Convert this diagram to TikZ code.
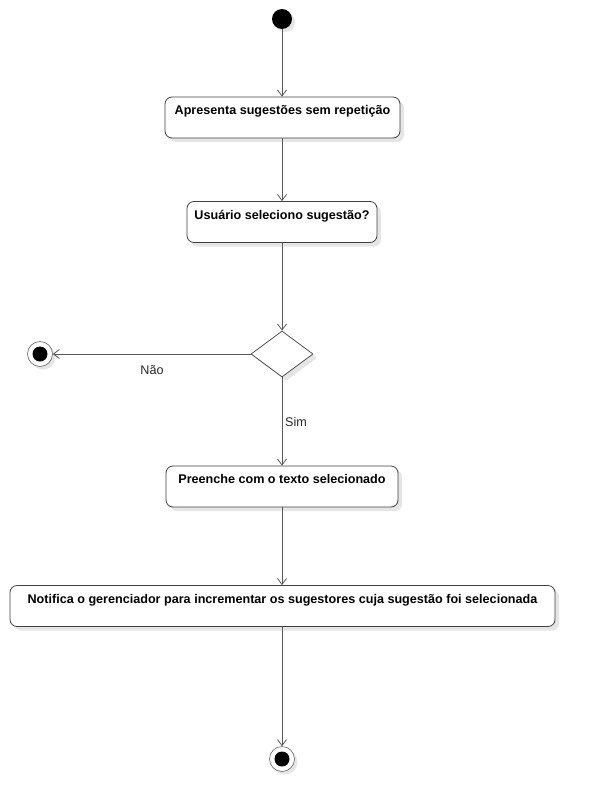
\documentclass[tikz,border=0pt]{standalone}
\usepackage{fontspec}
\setmainfont{Liberation Sans}
\usetikzlibrary{arrows.meta,shapes.geometric,shadows}

\tikzset{
	acao/.style={draw=black!75,rounded corners=7pt,fill=white,line width=0.8pt,
		align=center,font=\bfseries\fontsize{12.6}{15}\selectfont,minimum height=41pt,inner sep=2pt,
		drop shadow={shadow xshift=4pt,shadow yshift=-4pt,opacity=0.10,fill=black}},
	decisao/.style={draw=black!75,diamond,fill=white,line width=0.7pt,minimum width=62pt,minimum height=46pt,inner sep=0pt,
		drop shadow={shadow xshift=4pt,shadow yshift=-4pt,opacity=0.10,fill=black}},
	inicio/.style={circle,fill=black,minimum size=20pt,inner sep=0pt,
		drop shadow={shadow xshift=3pt,shadow yshift=-3pt,opacity=0.10,fill=black}},
	fim/.style={circle,draw=black!60,fill=white,line width=0.6pt,minimum size=25pt,inner sep=0pt,
		path picture={\fill[black] (path picture bounding box.center) circle (7.5pt);},
		drop shadow={shadow xshift=3pt,shadow yshift=-3pt,opacity=0.10,fill=black}},
	fluxo/.style={draw=black!65,line width=0.8pt,-{Straight Barb[length=6pt,width=9pt]}},
	rotulo/.style={font=\fontsize{12.6}{14}\selectfont,text=black!85}
}

\begin{document}
\begin{tikzpicture}[x=1pt,y=-1pt]
		\useasboundingbox (0,0) rectangle (595,811);
		% nos
		\node[inicio] (ini) at (282,19) {};
		\node[acao,minimum width=235pt] (apresenta) at (282.5,117.5) {Apresenta sugestões sem repetição\\~};
		\node[acao,minimum width=190pt] (seleciona) at (282,222) {Usuário seleciono sugestão?\\~};
		\node[decisao] (dec) at (282,354) {};
		\node[fim] (fimnao) at (40,354) {};
		\node[acao,minimum width=232pt] (preenche) at (282,486.5) {Preenche com o texto selecionado\\~};
		\node[acao,minimum width=545pt] (notifica) at (282.5,606) {Notifica o gerenciador para incrementar os sugestores cuja sugestão foi selecionada\\~};
		\node[fim] (fimsim) at (282,759) {};
		% fluxos
		\draw[fluxo] (ini) -- (apresenta.north -| ini);
		\draw[fluxo] (apresenta.south -| ini) -- (seleciona.north -| ini);
		\draw[fluxo] (seleciona.south -| ini) -- (dec.north);
		\draw[fluxo] (dec.west) -- (fimnao);
		\draw[fluxo] (dec.south) -- (preenche.north -| dec);
		\draw[fluxo] (preenche.south -| ini) -- (notifica.north -| ini);
		\draw[fluxo] (notifica.south -| ini) -- (fimsim);
		% rotulos
		\node[rotulo] (nao) at (152,370) {Não};
		\node[rotulo] (sim) at (296,422) {Sim};
	\end{tikzpicture}
\end{document}
